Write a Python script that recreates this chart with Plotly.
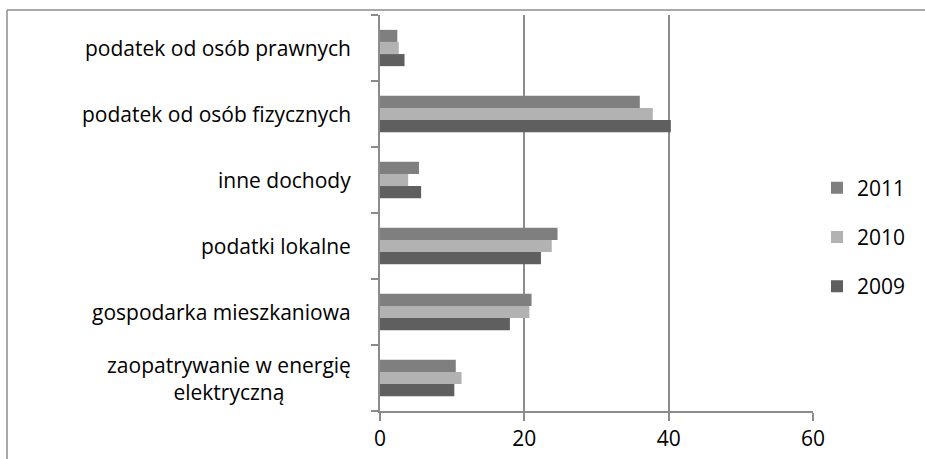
import plotly.graph_objects as go

categories = ["zaopatrywanie w energię<br>elektryczną", "gospodarka mieszkaniowa", "podatki lokalne",
              "inne dochody", "podatek od osób fizycznych", "podatek od osób prawnych"]
years = ["2009", "2010", "2011"]
v2009 = [10.3, 18.0, 22.3, 5.7, 40.3, 3.4]
v2010 = [11.3, 20.7, 23.8, 3.9, 37.8, 2.6]
v2011 = [10.5, 21.0, 24.6, 5.4, 36.0, 2.4]
colors = {"2009": "#5f5f5f", "2010": "#b2b2b2", "2011": "#7f7f7f"}
legend_rank = {"2011": 1, "2010": 2, "2009": 3}
xticks = [0, 20, 40, 60]

FONT = "'Open Sans', sans-serif"
FS = 21
fig = go.Figure()
for yr, vals in zip(years, [v2009, v2010, v2011]):
    fig.add_trace(go.Bar(y=categories, x=vals, orientation="h", name=yr,
                         marker=dict(color=colors[yr], line=dict(width=0)),
                         legendgroup=yr, legendrank=legend_rank[yr]))

W, H = 925, 459
ml, mr, mt, mb = 380, 112, 15, 48
pw, ph = W - ml - mr, H - mt - mb

for c in categories:
    fig.add_annotation(x=-27 / pw, xref="paper", y=c, yref="y", text=c, showarrow=False,
                       xanchor="right", yanchor="middle", align="center",
                       font=dict(family=FONT, size=FS, color="#000"))

bx = (7 - ml) / pw
by = (H - mb - 10) / ph
fig.add_shape(type="line", xref="paper", yref="paper", x0=bx, x1=bx, y0=by, y1=-mb / ph - 0.05,
              line=dict(color="#8c8c8c", width=1.5))
fig.add_shape(type="line", xref="paper", yref="paper", x0=bx, x1=(W - ml) / pw + 0.05, y0=by, y1=by,
              line=dict(color="#8c8c8c", width=1.5))

fig.update_layout(
    width=W, height=H, margin=dict(l=ml, r=mr, t=mt, b=mb, autoexpand=False),
    paper_bgcolor="white", plot_bgcolor="white",
    barmode="group", bargap=0.45, bargroupgap=0,
    showlegend=True,
    legend=dict(x=(817 - ml) / pw, y=(H - mb - 237) / ph, xanchor="left", yanchor="middle",
                traceorder="grouped", tracegroupgap=19,
                font=dict(family=FONT, size=FS, color="#000"), itemwidth=30),
    font=dict(family=FONT, size=FS, color="#000"),
)
fig.update_xaxes(range=[0, 60], tickvals=xticks, ticktext=[str(t) for t in xticks],
                 showgrid=True, gridcolor="#8c8c8c", gridwidth=1.5, zeroline=False,
                 showline=True, linecolor="#8c8c8c", linewidth=1.5,
                 ticks="outside", ticklen=8, tickcolor="#8c8c8c", tickwidth=1.5,
                 automargin=False,
                 tickfont=dict(family=FONT, size=FS, color="#000"))
fig.update_yaxes(showticklabels=False, tickson="boundaries", ticks="outside", ticklen=7,
                 tickcolor="#8c8c8c", tickwidth=1.5, showline=True, linecolor="#8c8c8c",
                 linewidth=1.5, showgrid=False, automargin=False)
fig.write_html("out.html", config={"displayModeBar": False},
               post_script="document.body.style.margin='0';")
